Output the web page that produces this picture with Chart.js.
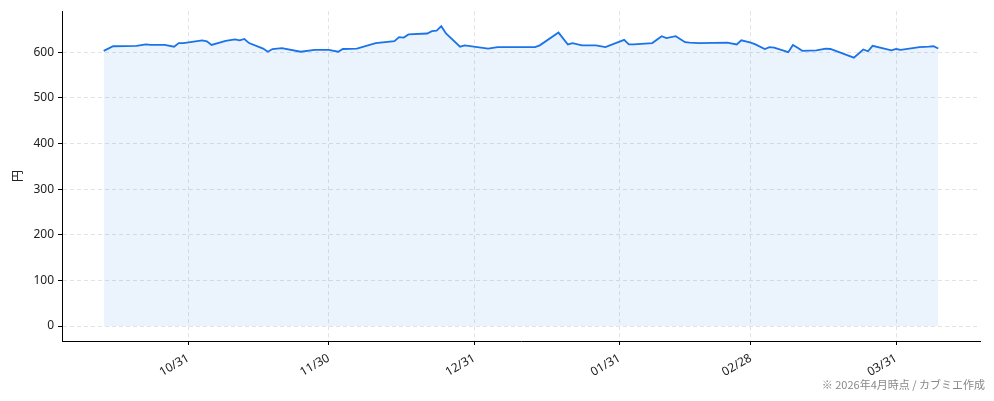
<!DOCTYPE html>
<html><head><meta charset="utf-8">
<script src="https://cdn.jsdelivr.net/npm/chart.js@4.4.1/dist/chart.umd.min.js"></script>
<style>html,body{margin:0;padding:0;background:#fff}#wrap{width:994px;height:401px;position:relative}</style>
</head><body><div id="wrap"><canvas id="c" width="994" height="401"></canvas></div>
<script>
const dates = ["2025-10-13","2025-10-15","2025-10-20","2025-10-22","2025-10-23","2025-10-26","2025-10-28","2025-10-29","2025-10-30",
"2025-11-03","2025-11-04","2025-11-05","2025-11-08","2025-11-10","2025-11-11","2025-11-12","2025-11-13","2025-11-16","2025-11-17","2025-11-18","2025-11-19","2025-11-20","2025-11-24","2025-11-27","2025-11-30",
"2025-12-02","2025-12-03","2025-12-06","2025-12-10","2025-12-14","2025-12-15","2025-12-16","2025-12-17","2025-12-21","2025-12-22","2025-12-23","2025-12-24","2025-12-25","2025-12-28","2025-12-29",
"2026-01-03","2026-01-05","2026-01-08","2026-01-13","2026-01-14","2026-01-18","2026-01-20","2026-01-21","2026-01-23","2026-01-26","2026-01-28",
"2026-02-01","2026-02-02","2026-02-03","2026-02-07","2026-02-09","2026-02-10","2026-02-12","2026-02-14","2026-02-15","2026-02-17","2026-02-23","2026-02-25","2026-02-26","2026-02-28",
"2026-03-01","2026-03-03","2026-03-04","2026-03-05","2026-03-08","2026-03-09","2026-03-10","2026-03-11","2026-03-14","2026-03-16","2026-03-17","2026-03-22","2026-03-24","2026-03-25","2026-03-26","2026-03-30","2026-03-31",
"2026-04-01","2026-04-05","2026-04-07","2026-04-08","2026-04-09"];
const prices = [603,613,614,617,616,616,612,620,620,
626,624,616,625,628,626,629,620,608,601,607,608,609,601,605,605,
601,607,608,620,624,633,632,639,641,646,647,657,641,612,615,
608,611,611,611,615,643,617,620,615,615,611,
627,617,617,620,635,631,635,622,621,620,621,617,626,621,
617,607,611,610,600,616,610,603,604,608,607,588,606,602,614,604,607,
605,611,612,613,608];
const tickDates = ["2025-10-31","2025-11-30","2025-12-31","2026-01-31","2026-02-28","2026-03-31"];
const tickLabels = ["10/31","11/30","12/31","01/31","02/28","03/31"];
const yTicks = [0,100,200,300,400,500,600];
const yTitle = "円";
const footnote = "※ 2026年4月時点 / カブミエ作成";

const DAY = 86400000;
const base = Date.parse("2025-10-31T00:00:00Z");
const toDay = s => (Date.parse(s + "T00:00:00Z") - base) / DAY;
const pts = dates.map((d, i) => ({x: toDay(d), y: prices[i]}));
const tickVals = tickDates.map(toDay);
const xs = pts.map(p => p.x);
const xMin0 = Math.min(...xs), xMax0 = Math.max(...xs);
const xr = xMax0 - xMin0;
const yMax0 = Math.max(...prices), yMin0 = 0;
const yr = yMax0 - yMin0;

const FONT = "'Noto Sans', 'Noto Sans CJK JP', sans-serif";

const footPlugin = {
  id: 'foot',
  afterDraw(chart) {
    const ctx = chart.ctx;
    ctx.save();
    ctx.font = "11px 'Noto Sans CJK JP', sans-serif";
    ctx.fillStyle = '#888';
    ctx.textAlign = 'right';
    ctx.textBaseline = 'middle';
    ctx.fillText(footnote, 985, 385);
    ctx.restore();
  }
};

const gridOpts = { color: '#e2e2e8', lineWidth: 1, tickColor: '#000', tickLength: 4, tickBorderDash: [], drawTicks: true };
const borderOpts = { display: true, color: '#000', width: 1, dash: [4, 3] };

new Chart(document.getElementById('c'), {
  type: 'line',
  data: { datasets: [{
    data: pts,
    borderColor: '#1a73e8',
    borderWidth: 1.8,
    backgroundColor: 'rgba(26,115,232,0.085)',
    fill: 'origin',
    pointRadius: 0,
    tension: 0
  }]},
  options: {
    responsive: false,
    animation: false,
    layout: { padding: { top: 10, right: 14, left: 0, bottom: 0 } },
    plugins: { legend: { display: false }, tooltip: { enabled: false } },
    scales: {
      x: {
        type: 'linear',
        min: xMin0 - 0.05 * xr,
        max: xMax0 + 0.05 * xr,
        afterBuildTicks: s => { s.ticks = tickVals.map(v => ({value: v})); },
        afterFit: s => { s.height = 60; },
        ticks: {
          callback: (v) => { const i = tickVals.indexOf(v); return i >= 0 ? tickLabels[i] : ''; },
          maxRotation: 30, minRotation: 30, autoSkip: false,
          font: { family: FONT, size: 12 }, color: '#222', padding: 6
        },
        grid: gridOpts,
        border: borderOpts
      },
      y: {
        min: yMin0 - 0.05 * yr,
        max: yMax0 + 0.05 * yr,
        afterBuildTicks: s => { s.ticks = yTicks.map(v => ({value: v})); },
        afterFit: s => { s.width = 62; },
        ticks: { font: { family: FONT, size: 12 }, color: '#222', padding: 4 },
        grid: gridOpts,
        border: borderOpts,
        title: { display: true, text: yTitle, font: { family: "'Noto Sans CJK JP', sans-serif", size: 12 }, color: '#222', padding: { top: 10, bottom: 0 } }
      }
    }
  },
  plugins: [footPlugin]
});
</script></body></html>
